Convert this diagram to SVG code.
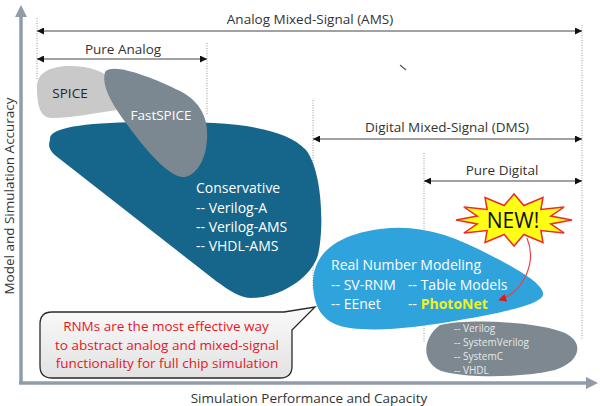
<svg xmlns="http://www.w3.org/2000/svg" width="600" height="406" viewBox="0 0 600 406">
<defs>
<style>
text{font-family:"Open Sans","Noto Sans",sans-serif;}
.lbl{font-size:13.5px;fill:#333;}
.w{fill:#fff;font-size:14px;}
.dim{stroke:#444;stroke-width:1;fill:none;}
.dot{stroke:#999;stroke-width:1;stroke-dasharray:1 1.5;fill:none;}
.ax{stroke:#909ca8;stroke-width:3.5;fill:none;}
.dg{font-size:10px;fill:#e8e8e8;}
</style>
<marker id="ah" viewBox="0 0 10 10" refX="10" refY="5" markerWidth="9" markerHeight="7" markerUnits="userSpaceOnUse" orient="auto-start-reverse">
<path d="M0,0 L10,5 L0,10 Z" fill="#111"/>
</marker>
<marker id="rh" viewBox="0 0 10 10" refX="9" refY="5" markerWidth="9" markerHeight="8" markerUnits="userSpaceOnUse" orient="auto">
<path d="M0,0 L10,5 L0,10 Z" fill="#e01818"/>
</marker>
<linearGradient id="cg" x1="0" y1="0" x2="0" y2="1">
<stop offset="0" stop-color="#fafafa"/>
<stop offset="1" stop-color="#e2e2e2"/>
</linearGradient>
</defs>
<rect width="600" height="406" fill="#fff"/>

<g id="axes">
<line class="ax" x1="21" y1="383" x2="21" y2="15"/>
<path d="M15,17 L21,5 L27,17 Z" fill="#909ca8"/>
<line class="ax" x1="19" y1="383" x2="587" y2="383"/>
<path d="M586,377 L598,383 L586,389 Z" fill="#909ca8"/>
<text class="lbl" transform="translate(14,196) rotate(-90)" text-anchor="middle">Model and Simulation Accuracy</text>
<text class="lbl" x="309" y="403" text-anchor="middle">Simulation Performance and Capacity</text>
</g>

<g id="guides">
<line class="dot" x1="37" y1="18" x2="37" y2="80"/>
<line class="dot" x1="207" y1="43" x2="207" y2="115"/>
<line class="dot" x1="313" y1="100" x2="313" y2="290"/>
<line class="dot" x1="424" y1="153" x2="424" y2="342"/>
<line class="dot" x1="582" y1="25" x2="582" y2="340"/>
<line x1="400" y1="65" x2="406" y2="70" stroke="#555" stroke-width="1.2"/>
</g>

<g id="connectors">
<line class="dim" x1="37" y1="31" x2="582" y2="31" marker-start="url(#ah)" marker-end="url(#ah)"/>
<line class="dim" x1="37" y1="59" x2="207" y2="59" marker-start="url(#ah)" marker-end="url(#ah)"/>
<line class="dim" x1="313" y1="139" x2="582" y2="139" marker-start="url(#ah)" marker-end="url(#ah)"/>
<line class="dim" x1="424" y1="181" x2="582" y2="181" marker-start="url(#ah)" marker-end="url(#ah)"/>
</g>

<g id="range-labels">
<text class="lbl" x="310" y="24" text-anchor="middle">Analog Mixed-Signal (AMS)</text>
<text class="lbl" x="123" y="54" text-anchor="middle">Pure Analog</text>
<text class="lbl" x="447" y="132" text-anchor="middle">Digital Mixed-Signal (DMS)</text>
<text class="lbl" x="502" y="175" text-anchor="middle">Pure Digital</text>
</g>

<g id="spice">
<path d="M37,88 C36,72 52,66 70,66 C90,66 105,72 112,80 L117,110 C95,113 72,118 52,118 C40,118 37,105 37,88 Z" fill="#c9c9c9"/>
<text class="lbl" x="70" y="98" text-anchor="middle" style="fill:#262626">SPICE</text>
</g>

<g id="conservative">
<path d="M50,140 C48,128 80,123 140,122 C220,121 282,124 306,150 C323,172 324,230 318,255 C310,281 276,298 252,298 C240,298 230,291 216,281 L56,156 C49,150 48,145 50,140 Z" fill="#15668a"/>
<text class="w" x="196" y="193">Conservative</text>
<text class="w" x="196" y="213">-- Verilog-A</text>
<text class="w" x="196" y="232">-- Verilog-AMS</text>
<text class="w" x="196" y="251">-- VHDL-AMS</text>
</g>

<g id="fastspice">
<path d="M105,72 C112,62 150,76 180,91 C205,104 210,125 206,148 C203,166 192,178 182,177 C170,176 150,155 135,135 C120,115 100,90 105,72 Z" fill="#7b8791"/>
<text class="w" x="161" y="120" text-anchor="middle" style="font-size:13.5px">FastSPICE</text>
</g>

<g id="rnm">
<path d="M313,285 C312,255 335,235 380,229 C420,224 452,235 490,255 C520,270 545,285 543,295 C540,305 500,313 460,320 C420,327 380,332 350,328 C325,325 314,310 313,285 Z" fill="#2fa3dc"/>
<g style="font-size:14px;fill:#fff">
<text x="331" y="270">Real Number Modeling</text>
<text x="331" y="290">-- SV-RNM</text>
<text x="408" y="290">-- Table Models</text>
<text x="331" y="309">-- EEnet</text>
<text x="408" y="309">-- <tspan fill="#eef21a" font-weight="bold">PhotoNet</tspan></text>
</g>
</g>

<g id="digital">
<path d="M440,325 C470,318 540,322 565,333 C585,343 580,362 555,370 C520,378 470,378 445,372 C422,366 420,340 440,325 Z" fill="#7d8890"/>
<text class="dg" x="454" y="332">-- Verilog</text>
<text class="dg" x="454" y="346">-- SystemVerilog</text>
<text class="dg" x="454" y="360">-- SystemC</text>
<text class="dg" x="454" y="374">-- VHDL</text>
</g>

<g id="new-badge">
<polygon points="572,220 550.7,223.9 564.2,233 540.9,230.6 543,242.5 523.8,234.5 514,246 504.2,234.5 485,242.5 487.1,230.6 463.8,233 477.3,223.9 456,220 477.3,216.1 463.8,207 487.1,209.4 485,197.5 504.2,205.5 514,194 523.8,205.5 543,197.5 540.9,209.4 564.2,207 550.7,216.1" fill="#ffff14" stroke="#f02828" stroke-width="1.5" stroke-linejoin="miter"/>
<text x="513" y="228" text-anchor="middle" style="font-size:21px;fill:#111">NEW!</text>
<path d="M527,238 C537,262 524,292 499,300" fill="none" stroke="#f04040" stroke-width="1.2" marker-end="url(#rh)"/>
</g>

<g id="callout">
<path d="M52,312 H284 L315,307 L292,330 V366 Q292,378 280,378 H52 Q40,378 40,366 V324 Q40,312 52,312 Z" fill="url(#cg)" stroke="#2a2a2a" stroke-width="1.3"/>
<g style="font-size:13.5px;fill:#e8161e" text-anchor="middle">
<text x="166" y="331">RNMs are the most effective way</text>
<text x="167" y="350">to abstract analog and mixed-signal</text>
<text x="167" y="368">functionality for full chip simulation</text>
</g>
</g>
</svg>
